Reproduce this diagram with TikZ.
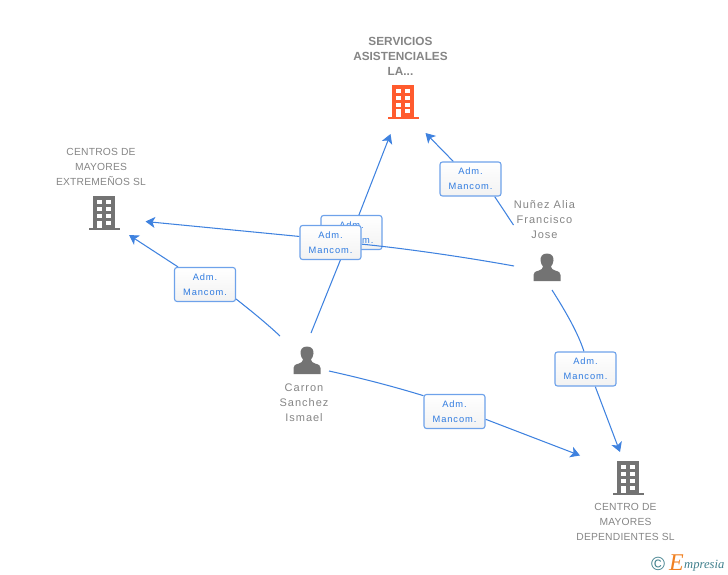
\documentclass[tikz,border=0pt]{standalone}
\usepackage{fontspec}
\setmainfont{Liberation Sans}
\newfontfamily\lblfont[LetterSpace=2]{Liberation Sans}
\newfontfamily\perfont[LetterSpace=9]{Liberation Sans}
\newfontfamily\boxfont[LetterSpace=10]{Liberation Sans}
\newfontfamily\logofont{Liberation Serif}
\usetikzlibrary{arrows.meta}
\pgfdeclarelayer{backbox}
\pgfdeclarelayer{edges}
\pgfsetlayers{backbox,edges,main}
\definecolor{edgeblue}{HTML}{3F82DF}
\definecolor{boxline}{HTML}{6EA2EA}
\definecolor{boxtext}{HTML}{2F7BE0}
\definecolor{lblgray}{HTML}{858585}
\definecolor{icongray}{HTML}{737373}
\definecolor{iconorange}{HTML}{FF5B2E}
\definecolor{logoteal}{HTML}{3F7F8C}
\definecolor{logoorange}{HTML}{F08020}
\tikzset{
  x=1pt,y=-1pt,
  rolebox/.style={draw=boxline,line width=1.1pt,rounded corners=2.5pt,
    shade,top color=white,bottom color=white!95!black,
    minimum width=61pt,minimum height=34pt,inner sep=0pt,align=center,
    font=\boxfont\fontsize{9.3}{15}\selectfont,text=boxtext},
  lbl/.style={align=center,inner sep=0pt,text=lblgray,font=\lblfont\fontsize{10.3}{15}\selectfont},
  perlbl/.style={align=center,inner sep=0pt,text=lblgray,font=\perfont\fontsize{11}{15}\selectfont},
  lblbold/.style={align=center,inner sep=0pt,text=lblgray,font=\bfseries\fontsize{11.8}{15}\selectfont},
  edge/.style={draw=edgeblue,line width=1.05pt},
  tip/.style={edge,-{Stealth[length=9.5pt,width=11pt,inset=2.5pt]}},
  pics/bldg/.style={code={
    \fill[#1] (-11,0) rectangle (11,32);
    \fill[#1] (-15.5,32) rectangle (15.5,34);
    \foreach \yy in {4,11,18}{
      \fill[white] (-7,\yy) rectangle (-2.5,\yy+4);
      \fill[white] (2,\yy) rectangle (7,\yy+4);
    }
    \fill[white] (-7,24.5) rectangle (-2.5,32);
    \fill[white] (2,24.5) rectangle (7,28.5);
  }},
  pics/person/.style={code={
    \fill[icongray] (0,-19.5) .. controls (-5,-19.5) and (-6.8,-16) .. (-6.5,-12.5)
      .. controls (-6.3,-9.5) and (-5,-8) .. (-4,-6.5)
      .. controls (-4,-4.5) and (-5.5,-3.5) .. (-8,-2.5)
      .. controls (-12,-1.5) and (-13.5,-0.5) .. (-13.5,2) -- (-13.5,8) -- (13.5,8) -- (13.5,2)
      .. controls (13.5,-0.5) and (12,-1.5) .. (8,-2.5)
      .. controls (5.5,-3.5) and (4,-4.5) .. (4,-6.5)
      .. controls (5,-8) and (6.3,-9.5) .. (6.5,-12.5)
      .. controls (6.8,-16) and (5,-19.5) .. (0,-19.5) -- cycle;
  }},
}
\begin{document}
\begin{tikzpicture}
\useasboundingbox (0,0) rectangle (728,575);
% icons
\pic at (403,85) {bldg=iconorange};
\pic at (104,196) {bldg=icongray};
\pic at (628,461) {bldg=icongray};
\pic at (307,366) {person};
\pic at (547,273) {person};
% labels
\node[lblbold] (ttop) at (400.5,56) {SERVICIOS\\ASISTENCIALES\\LA...};
\node[lbl] (tcen) at (101,167) {CENTROS DE\\MAYORES\\EXTREMEÑOS SL};
\node[lbl] (tdep) at (625.5,522) {CENTRO DE\\MAYORES\\DEPENDIENTES SL};
\node[perlbl] (tnun) at (544.5,220) {Nuñez Alia\\Francisco\\Jose};
\node[perlbl] (tcar) at (304,403) {Carron\\Sanchez\\Ismael};
% role boxes
\begin{pgfonlayer}{backbox}
\node[rolebox] (bb) at (351.5,232.5) {Adm.\\Mancom.};
\end{pgfonlayer}
\node[rolebox] (ba) at (470.5,179) {Adm.\\Mancom.};
\node[rolebox] (bc) at (330.5,242.5) {Adm.\\Mancom.};
\node[rolebox] (bd) at (205,284.5) {Adm.\\Mancom.};
\node[rolebox] (be) at (454.5,411.5) {Adm.\\Mancom.};
\node[rolebox] (bf) at (585.5,369) {Adm.\\Mancom.};
% free ends
\coordinate (nunA) at (513.5,225);
\coordinate (nunB) at (514,266);
\coordinate (nunC) at (552,290);
\coordinate (carA) at (311,333);
\coordinate (carB) at (280,336);
\coordinate (carC) at (329,371);
\coordinate (topL) at (390.5,134);
\coordinate (topR) at (425.5,133);
\coordinate (cenR) at (145.5,221.5);
\coordinate (cenB) at (129,235);
\coordinate (depL) at (580,455.5);
\coordinate (depT) at (620,452);
\begin{pgfonlayer}{edges}
\draw[edge] (nunA) -- (ba.-36);
\draw[tip] (ba) -- (topR);
\draw[edge] (carA) -- (bb.-112);
\draw[tip] (bb.67) -- (topL);
\draw[edge] (nunB) .. controls (470,258) and (410,249) .. (bc.-3);
\draw[tip] (bc.169) -- (cenR);
\draw[edge] (carB) .. controls (265,322) and (250,310) .. (bd.-25);
\draw[tip] (bd) -- (cenB);
\draw[edge] (carC) .. controls (365,379) and (395,387) .. (be.153);
\draw[tip] (be.-14) -- (depL);
\draw[edge] (nunC) .. controls (566,312) and (578,333) .. (bf.95);
\draw[tip] (bf.-61) -- (depT);
\end{pgfonlayer}
% logo
\node[inner sep=0pt,text=logoteal,font=\fontsize{19}{19}\selectfont] (lc) at (658,564) {©};
\node[inner sep=0pt,anchor=base west,text=logoorange,font=\logofont\itshape\fontsize{24}{24}\selectfont] (le) at (669,570) {E};
\node[inner sep=0pt,anchor=base west,text=logoteal,font=\logofont\itshape\fontsize{12.6}{14}\selectfont] (lm) at (684,568) {mpresia};
\end{tikzpicture}
\end{document}
